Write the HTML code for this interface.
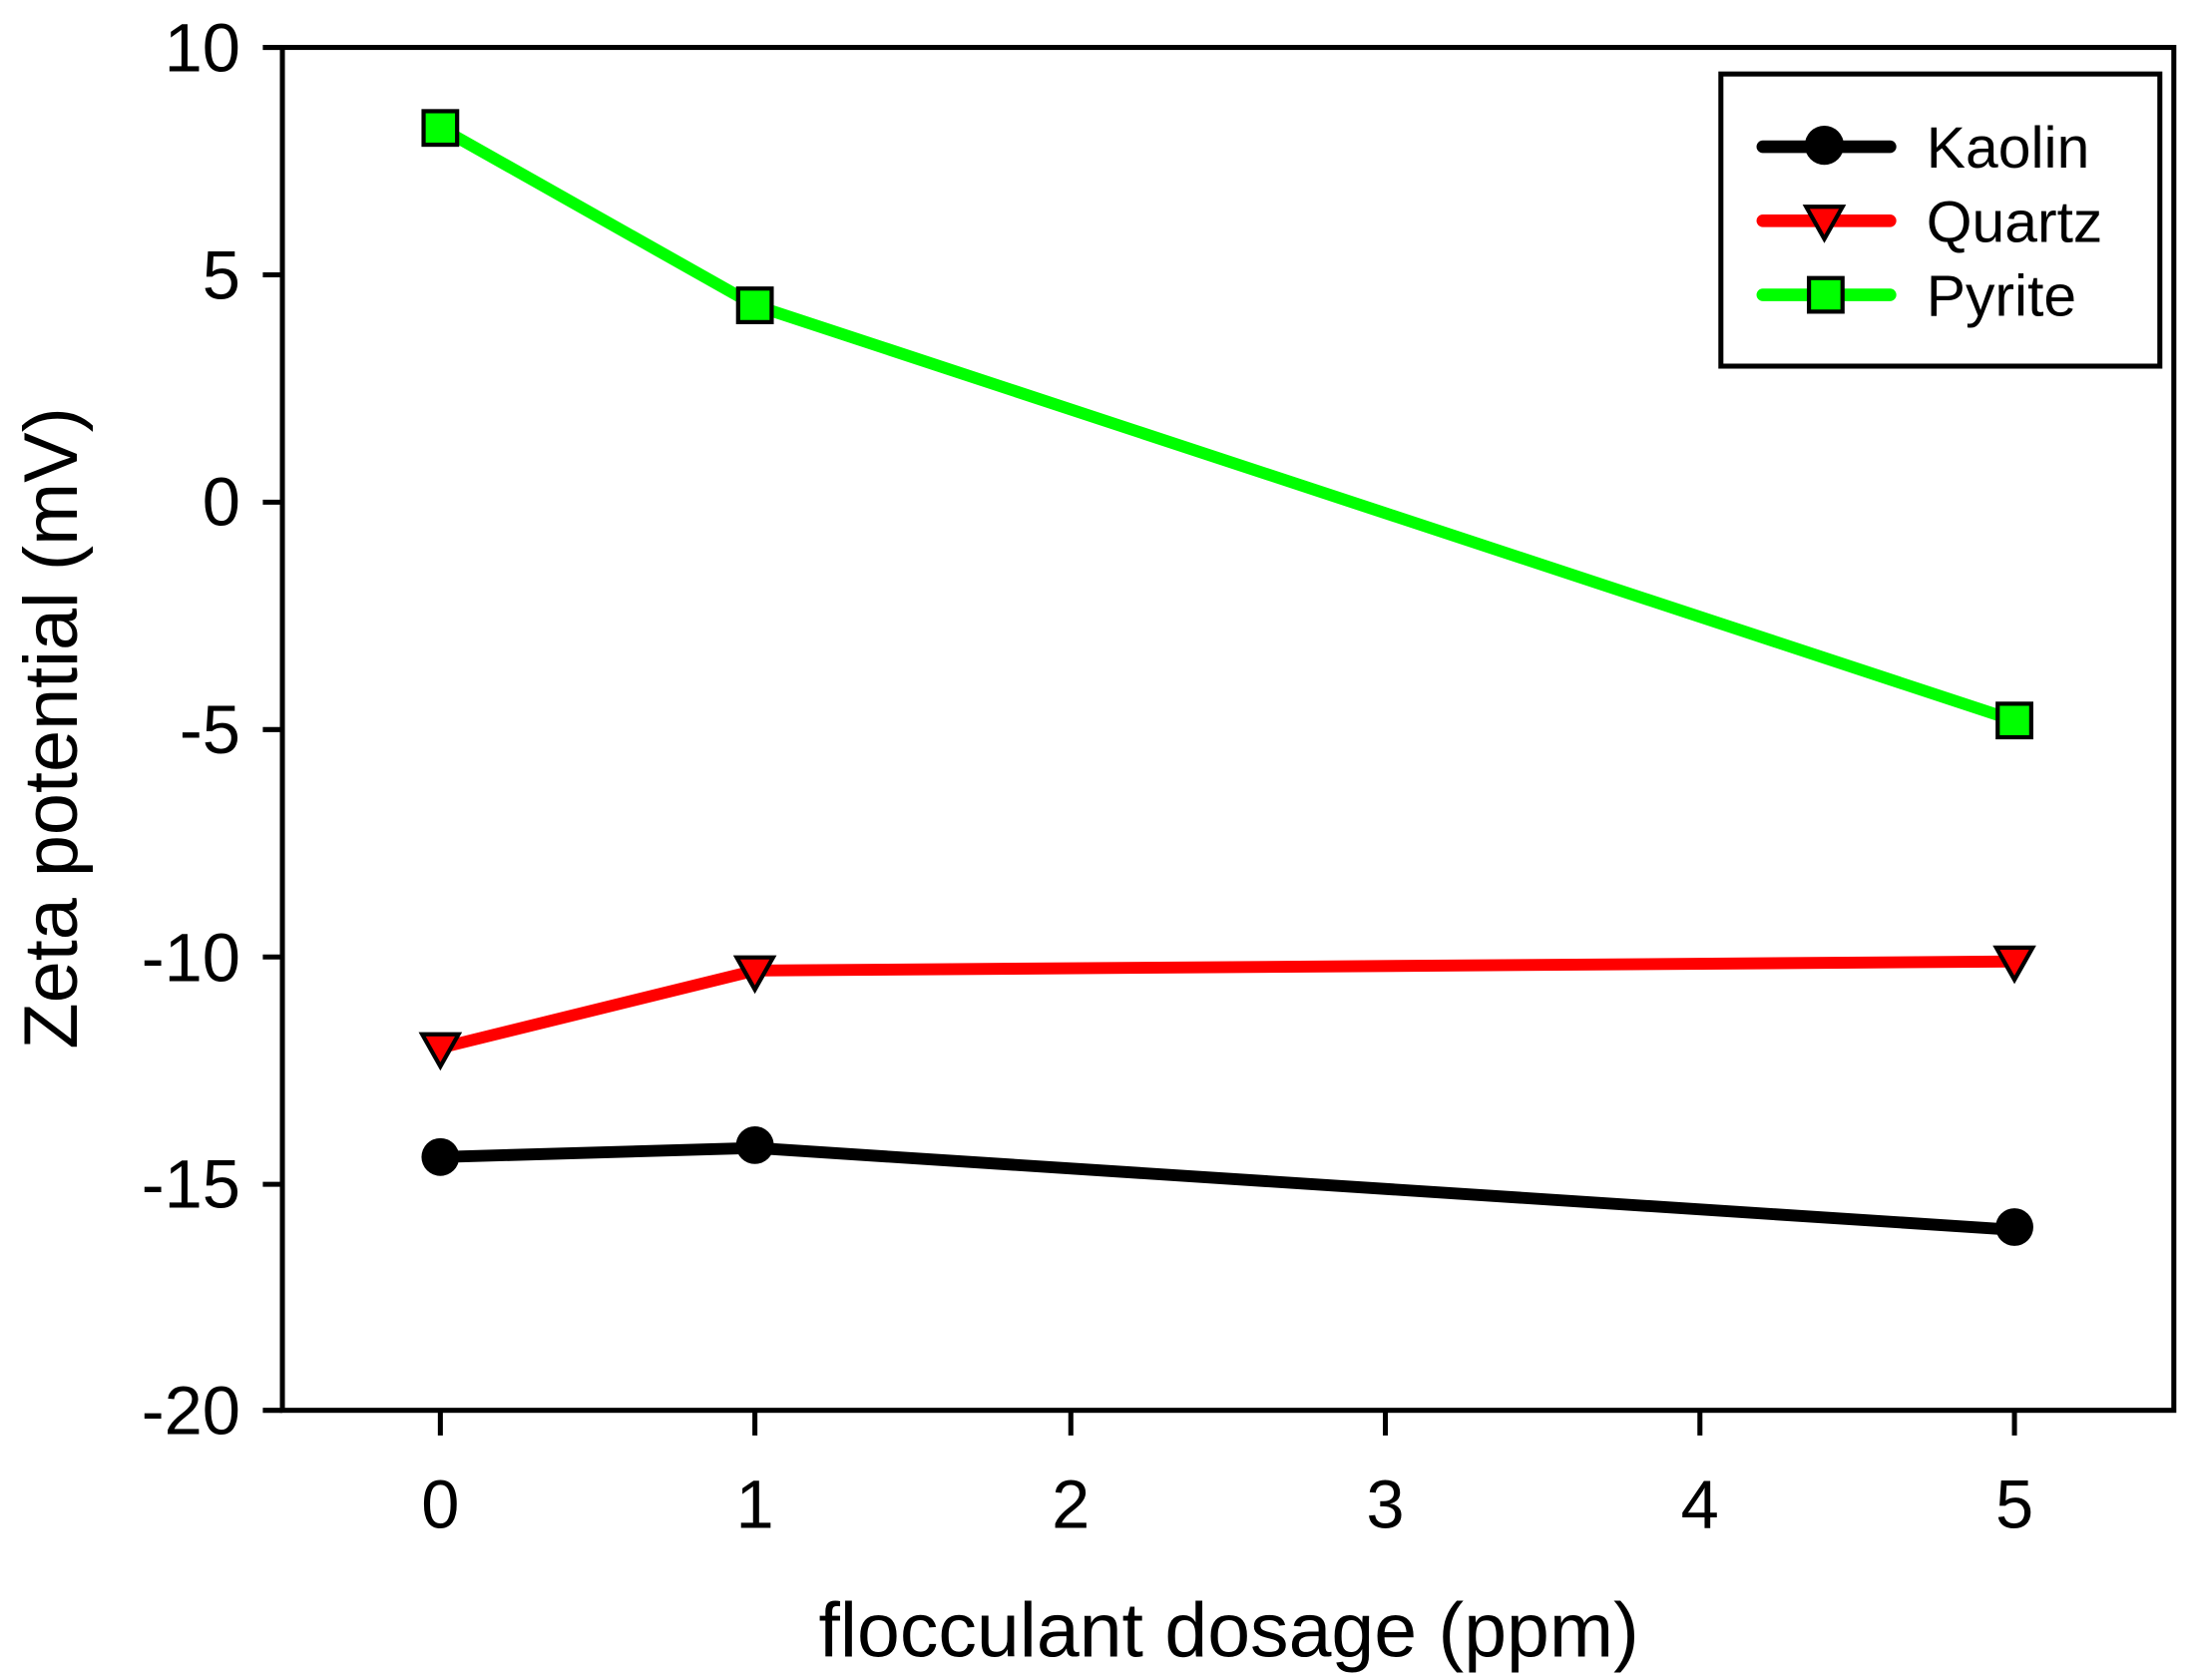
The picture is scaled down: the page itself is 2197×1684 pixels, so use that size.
<!DOCTYPE html>
<html><head><meta charset="utf-8"><style>html,body{margin:0;padding:0;background:#fff}svg{display:block}</style></head>
<body>
<svg width="2197" height="1684" viewBox="0 0 1568 1200" xmlns="http://www.w3.org/2000/svg" font-family="Liberation Sans, Arial, sans-serif">
<rect width="1568" height="1200" fill="#fff"/>
<g stroke="#000" stroke-width="3.6" fill="none">
<rect x="202" y="33" width="1353" height="975"/>
<line x1="188" y1="33" x2="202" y2="33"/><line x1="188" y1="195.7" x2="202" y2="195.7"/><line x1="188" y1="358.3" x2="202" y2="358.3"/><line x1="188" y1="521" x2="202" y2="521"/><line x1="188" y1="683.7" x2="202" y2="683.7"/><line x1="188" y1="846.3" x2="202" y2="846.3"/><line x1="188" y1="1008" x2="202" y2="1008"/>
<line x1="315" y1="1008" x2="315" y2="1026"/><line x1="540" y1="1008" x2="540" y2="1026"/><line x1="766" y1="1008" x2="766" y2="1026"/><line x1="991" y1="1008" x2="991" y2="1026"/><line x1="1216" y1="1008" x2="1216" y2="1026"/><line x1="1441" y1="1008" x2="1441" y2="1026"/>
</g>
<g font-size="49" text-anchor="end" fill="#000">
<text x="172" y="50">10</text><text x="172" y="213">5</text><text x="172" y="375">0</text><text x="172" y="538">-5</text><text x="172" y="701">-10</text><text x="172" y="863">-15</text><text x="172" y="1025">-20</text>
</g>
<g font-size="49" text-anchor="middle" fill="#000">
<text x="315" y="1092">0</text><text x="540" y="1092">1</text><text x="766" y="1092">2</text><text x="991" y="1092">3</text><text x="1216" y="1092">4</text><text x="1441" y="1092">5</text>
</g>
<text x="879" y="1184" font-size="55" text-anchor="middle">flocculant dosage (ppm)</text>
<text transform="translate(55,520) rotate(-90)" font-size="54" text-anchor="middle">Zeta potential (mV)</text>
<g fill="none" stroke-width="8.5" stroke-linejoin="round" stroke-linecap="round">
<polyline stroke="#00ff00" points="315,90.6 540,217.5 1441,514.5"/>
<polyline stroke="#ff0000" points="315,748.7 540,693.4 1441,686.9"/>
<polyline stroke="#000" points="315,826.8 540,820.3 1441,878.9"/>
</g>
<g stroke="#000" stroke-width="3">
<rect x="303" y="78.6" width="24" height="24" fill="#00ff00"/><rect x="528" y="205.5" width="24" height="24" fill="#00ff00"/><rect x="1429" y="502.5" width="24" height="24" fill="#00ff00"/>
<polygon points="302,739 328,739 315,762" fill="#ff0000"/><polygon points="527,684 553,684 540,707" fill="#ff0000"/><polygon points="1428,677 1454,677 1441,700" fill="#ff0000"/>
</g>
<g fill="#000"><circle cx="315" cy="826.8" r="13.5"/><circle cx="540" cy="818.3" r="13.5"/><circle cx="1441" cy="876.9" r="13.5"/></g>
<rect x="1231" y="52" width="314" height="209" fill="#fff" stroke="#000" stroke-width="3.6"/>
<g stroke-width="9" stroke-linecap="round">
<line x1="1261" y1="104" x2="1352" y2="104" stroke="#000"/>
<line x1="1261" y1="157" x2="1352" y2="157" stroke="#ff0000"/>
<line x1="1261" y1="210" x2="1352" y2="210" stroke="#00ff00"/>
</g>
<circle cx="1305" cy="103" r="14" fill="#000"/>
<polygon points="1292,147 1318,147 1305,170" fill="#ff0000" stroke="#000" stroke-width="3"/>
<rect x="1294" y="198" width="24" height="24" fill="#00ff00" stroke="#000" stroke-width="3"/>
<g font-size="42" fill="#000">
<text x="1378" y="119">Kaolin</text><text x="1378" y="172">Quartz</text><text x="1378" y="225">Pyrite</text>
</g>
</svg>
</body></html>
